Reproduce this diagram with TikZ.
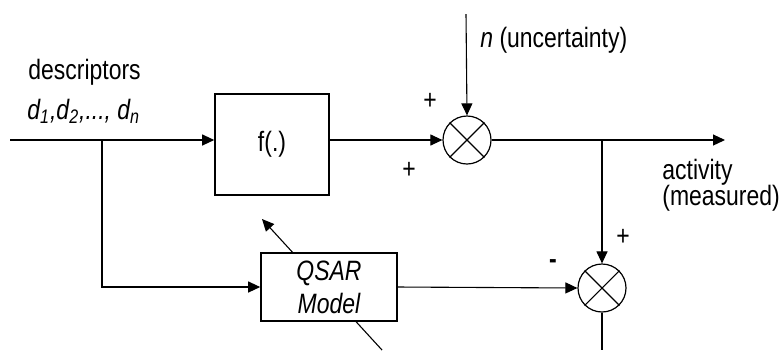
\documentclass[tikz,border=0pt]{standalone}
\usepackage{fontspec}
\setmainfont{Liberation Sans}[FakeStretch=0.82]
\usepackage{tikz}
\usetikzlibrary{positioning,arrows.meta,calc}

\begin{document}
\begin{tikzpicture}[
      x=0.5pt, y=-0.5pt,
      font=\fontsize{14}{15}\selectfont,
      block/.style={draw, line width=0.8pt, fill=white, inner sep=0pt, align=center},
      summer/.style={draw, circle, line width=0.6pt, minimum size=24pt, inner sep=0pt},
      arr/.style={-{Triangle[length=6pt,width=5.5pt]}, line width=0.55pt},
      wire/.style={line width=0.55pt},
      label/.style={anchor=base west, inner sep=0pt},
      sign/.style={inner sep=0pt}
  ]
    \useasboundingbox (0,0) rectangle (779,350);
    % signal points
    \coordinate (in) at (10,140);
    \coordinate (split) at (102,140);
    \coordinate (ntop) at (466,14);
    \coordinate (tap) at (602,140);
    \coordinate (out) at (725,140);
    \coordinate (errout) at (602,350);
    \coordinate (tunefrom) at (382,350);
    \coordinate (tuneto) at (262,219);
    % tuning arrow goes under the model box
    \draw[arr] (tunefrom) -- (tuneto);
    \node[block, minimum width=57pt, minimum height=50.5pt] (plant) at (272,144.5) {f(.)};
    \node[block, minimum width=68pt, minimum height=34pt, font=\fontsize{14}{16.5}\selectfont\itshape] (qsar) at (329,287) {QSAR\\Model};
    \node[summer] (sum1) at (467,140) {};
    \node[summer] (sum2) at (602,288) {};
    \draw[wire] (sum1.north west) -- (sum1.south east) (sum1.north east) -- (sum1.south west);
    \draw[wire] (sum2.north west) -- (sum2.south east) (sum2.north east) -- (sum2.south west);
    \draw[arr] (in) -- (in -| plant.west);
    \draw[arr] (split) |- (qsar.west);
    \draw[arr] (ntop) -- (sum1.north);
    \draw[arr] (plant.east |- sum1) -- (sum1.west);
    \draw[arr] (sum1.east) -- (out);
    \draw[arr] (tap) -- (sum2.north);
    \draw[arr] (qsar.east) -- (sum2.west);
    \draw[wire] (sum2.south) -- (errout);
    % labels
    \node[label] (desc) at (28,79) {descriptors};
    \node[label] (dlist) at (27,119) {\textit{d\textsubscript{1},d\textsubscript{2},..., d\textsubscript{n}}};
    \node[label] (noise) at (480,47) {\textit{n} (uncertainty)};
    \node[label] (act) at (662,179) {activity};
    \node[label] (actnote) at (662,205) {(measured)};
    \node[sign] (p1) at (430,101) {+};
    \node[sign] (p2) at (409,170) {+};
    \node[sign] (p3) at (623,237) {+};
    \node[sign] (m1) at (553,264) {\textbf{-}};
  \end{tikzpicture}
\end{document}
